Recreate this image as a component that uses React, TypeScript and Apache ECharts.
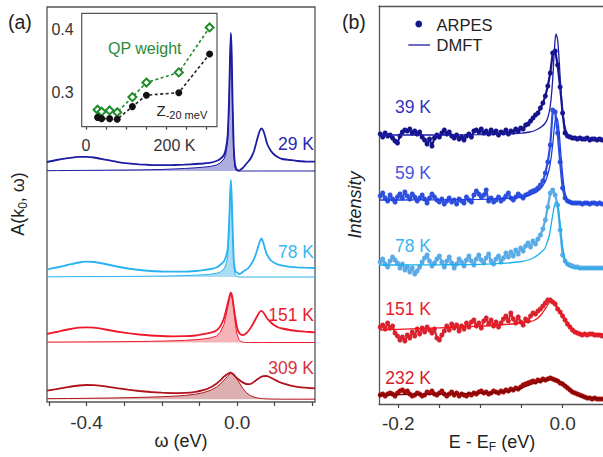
import React, { useEffect, useRef } from "react";
import * as echarts from "echarts";

const FONT = "'Liberation Sans', Arial, Helvetica, sans-serif";

// ---------------- Panel (a): A(k0, ω) ----------------
const OMEGA = [
  -0.505, -0.48, -0.45, -0.42, -0.4, -0.38, -0.35, -0.32, -0.29, -0.26,
  -0.23, -0.2, -0.17, -0.14, -0.11, -0.09, -0.07, -0.055, -0.045, -0.035,
  -0.03, -0.025, -0.0215, -0.019, -0.0167, -0.0145, -0.012, -0.009, -0.006, -0.003,
  0.0, 0.005, 0.01, 0.015, 0.02, 0.025, 0.03, 0.035, 0.04, 0.045,
  0.05, 0.055, 0.06, 0.065, 0.07, 0.075, 0.08, 0.09, 0.1, 0.11,
  0.12, 0.14, 0.16, 0.18, 0.207,
];
const TEMPS_A = ["29 K", "78 K", "151 K", "309 K"];
const OFFSET_A = [231, 125, 59.5, 2.8];

const FULL_29 = [
  9, 11, 12.8, 14.2, 14.2, 13.5, 11.3, 9.2, 7.6, 6.6,
  6, 5.8, 6, 6.3, 7, 7.5, 8.3, 10, 12, 16,
  22, 36, 70, 110, 138, 120, 70, 25, 8, 3,
  1, 0.5, 1.5, 3, 5, 7.5, 9.5, 12, 15.5, 20,
  27, 34, 40, 42.5, 40, 34, 27, 20, 16, 13.5,
  12, 11, 10, 9.5, 9.3,
];
const QP_29 = [
  0.3, 0.4, 0.5, 0.6, 0.6, 0.7, 0.8, 0.9, 1.0, 1.1,
  1.3, 1.5, 2, 2.5, 3.2, 3.8, 4.6, 6, 8, 12,
  17, 30, 62, 105, 136, 115, 62, 18, 4, 1,
  0.3, 0, 0, 0, 0, 0, 0, 0, 0, 0,
  0, 0, 0, 0, 0, 0, 0, 0, 0, 0,
  0, 0, 0, 0, 0,
];
const FULL_78 = [
  7.7, 9.5, 12, 14.5, 15.3, 15, 13, 10.5, 8.5, 7,
  6, 5.5, 5.3, 5.3, 6, 6.8, 8, 9.5, 12, 15.5,
  20, 28, 52, 78, 97, 82, 52, 18, 8, 5,
  4.5, 2.8, 3.5, 5, 6.5, 7.5, 9, 11.5, 14.5, 18,
  23, 29, 35, 38.5, 34, 27, 22, 16.5, 14, 12.3,
  11.3, 10.2, 9.6, 9.3, 9,
];
const QP_78 = [
  0.2, 0.25, 0.3, 0.35, 0.4, 0.4, 0.45, 0.5, 0.6, 0.7,
  0.8, 0.9, 1.1, 1.4, 1.8, 2.2, 2.8, 3.7, 5, 8,
  12, 20, 46, 75, 95, 78, 45, 14, 3.5, 1,
  0.3, 0.1, 0, 0, 0, 0, 0, 0, 0, 0,
  0, 0, 0, 0, 0, 0, 0, 0, 0, 0,
  0, 0, 0, 0, 0,
];
const FULL_151 = [
  8.5, 10.5, 13, 14.8, 15.2, 14.8, 13, 11, 9.3, 8,
  7, 6.5, 6.2, 6.3, 7, 8.3, 9.8, 12, 16, 24,
  31, 39, 44, 48, 49.8, 48.5, 44, 36, 28, 21,
  15, 10, 8, 7.5, 8, 9.5, 11.5, 14, 17, 20.5,
  24, 27.5, 30.5, 31.7, 30, 27, 24, 20, 17, 15,
  14, 12.5, 11.5, 10.8, 10.2,
];
const QP_151 = [
  0.4, 0.45, 0.5, 0.55, 0.6, 0.65, 0.7, 0.8, 0.9, 1.0,
  1.2, 1.4, 1.7, 2.1, 2.8, 3.5, 4.7, 6.5, 10, 18,
  26, 35, 41, 46, 48.5, 47, 42, 33, 23, 14,
  8, 3, 1, 0.4, 0.1, 0, 0, 0, 0, 0,
  0, 0, 0, 0, 0, 0, 0, 0, 0, 0,
  0, 0, 0, 0, 0,
];
const FULL_309 = [
  8.5, 10, 12, 13.7, 14.2, 14, 12.8, 11, 9.5, 8.2,
  7.2, 6.5, 6.1, 6.3, 7.4, 9, 12, 15.5, 18.5, 22.5,
  24, 25.3, 26, 26.5, 26.5, 26.2, 25.5, 24.5, 23.3, 22,
  21, 19.5, 18, 16.8, 15.8, 15.2, 15, 15.2, 16, 17.3,
  18.8, 20.2, 21.5, 22.5, 23, 23.2, 23, 21.5, 19.5, 17.5,
  16, 13.8, 12.4, 11.5, 10.8,
];
const QP_309 = [
  0.5, 0.6, 0.7, 0.8, 0.9, 1.0, 1.1, 1.3, 1.5, 1.8,
  2.1, 2.5, 3, 3.7, 5, 6.5, 9, 12, 15, 19,
  21, 23, 24.5, 25.3, 25.8, 25.8, 25.3, 24.2, 23, 21.5,
  20, 17, 14, 11, 8.5, 6.5, 5, 3.8, 2.8, 2.1,
  1.6, 1.2, 0.9, 0.7, 0.5, 0.4, 0.3, 0.2, 0.1, 0.1,
  0, 0, 0, 0, 0,
];
const FULL_A = [FULL_29, FULL_78, FULL_151, FULL_309];
const QP_A = [QP_29, QP_78, QP_151, QP_309];
const LINE_A = ["#1c1ca2", "#2ab2f2", "#ee1a2c", "#b0121c"];
const FILL_A = ["#acacdf", "#aadcf6", "#f7b4b8", "#dcb0b0"];
const LABEL_A = ["#2a2ab4", "#3cb6f2", "#ea1c2e", "#d8303c"];
const LABEL_A_Y = [144, 252, 315, 368];

// inset
const INSET_T = [29, 39, 59, 78, 116, 151, 232, 309];
const QP_WEIGHT = [0.273, 0.27, 0.272, 0.269, 0.293, 0.316, 0.332, 0.403];
const Z_20MEV = [0.261, 0.259, 0.259, 0.258, 0.278, 0.296, 0.3, 0.361];

// ---------------- Panel (b): ARPES vs DMFT ----------------
const E_ARPES = [
  -0.222, -0.219, -0.216, -0.213, -0.21, -0.207, -0.204, -0.201, -0.198, -0.195,
  -0.192, -0.189, -0.186, -0.183, -0.18, -0.177, -0.174, -0.171, -0.168, -0.165,
  -0.162, -0.159, -0.156, -0.153, -0.15, -0.147, -0.144, -0.141, -0.138, -0.135,
  -0.132, -0.129, -0.126, -0.123, -0.12, -0.117, -0.114, -0.111, -0.108, -0.105,
  -0.102, -0.099, -0.096, -0.093, -0.09, -0.087, -0.084, -0.081, -0.078, -0.075,
  -0.072, -0.069, -0.066, -0.063, -0.06, -0.057, -0.054, -0.051, -0.048, -0.045,
  -0.042, -0.039, -0.036, -0.033, -0.03, -0.027, -0.024, -0.021, -0.018, -0.015,
  -0.012, -0.009, -0.006, -0.003, 0, 0.003, 0.006, 0.009, 0.012, 0.015,
  0.018, 0.021, 0.024, 0.027, 0.03, 0.033, 0.036, 0.039, 0.042, 0.045,
  0.048,
];
const TEMPS_B = ["39 K", "59 K", "78 K", "151 K", "232 K"];
const OFFSET_B = [269, 204, 139, 74, 9];
const ARPES_39 = [
  1, -2, 2, -1, 0, -3, -6, -8, -1, 3,
  5, 4, 6, 2, 4, 1, 3, -2, -5, -9,
  -4, -11, -3, 0, -2, 2, 5, 1, 3, -1,
  -3, 0, -4, -2, -5, -1, 1, -2, 4, 5,
  3, 6, 2, 4, 1, 5, 2, 4, 0, 3,
  2, 5, 1, 4, 3, 6, 4, 7, 6, 10,
  11, 14, 17, 20, 22, 27, 32, 39, 49, 62,
  82, 84, 70, 48, 22, 2, -1, -2, -3, -3,
  -4, -3, -4, -4, -3, -5, -4, -4, -5, -4,
  -5,
];
const ARPES_59 = [
  4, 7, 2, -1, 5, 1, -2, 3, 6, 2,
  8, 4, 1, 6, 3, -1, 2, 5, 1, -3,
  2, 6, 3, 0, -2, 1, -4, -1, 2, -2,
  0, -4, 1, -1, -3, 3, 0, -2, 5, 9,
  6, 3, 5, 10, -1, 2, -2, 0, 3, -1,
  1, 4, 7, 2, 0, 3, 6, 4, 2, 5,
  6, 8, 9, 10, 12, 15, 19, 27, 38, 55,
  90, 88, 67, 38, 12, 2, -1, -2, -3, -3,
  -3, -3, -4, -3, -3, -4, -3, -3, -4, -3,
  -4,
];
const ARPES_78 = [
  3, 6, 1, -2, 4, 8, 5, 2, -3, 1,
  -5, -2, -7, -3, -9, -6, -2, 3, 7, 10,
  4, -1, 2, 6, 9, 3, -2, 4, 8, 2,
  -3, 1, 6, 3, -1, 5, 9, 4, 0, 6,
  10, 5, 2, 7, 11, 4, 1, 6, 9, 3,
  7, 12, 8, 13, 9, 15, 11, 17, 14, 19,
  22, 18, 24, 21, 26, 30, 36, 45, 58, 72,
  75, 70, 60, 35, 10, 4, 1, 0, -1, -2,
  -2, -3, -3, -3, -3, -3, -3, -3, -3, -3,
  -3,
];
const ARPES_151 = [
  3, 5, 1, 7, 2, 4, -3, -6, -10, -7,
  -11, -5, -8, -2, -6, 1, -4, 2, -2, 3,
  0, -3, 1, -8, -10, -5, -1, 4, 0, 6,
  2, 5, -1, 4, 1, 7, 3, 8, 10, 4,
  7, 2, 9, 12, 6, 10, 4, 8, 3, 7,
  11, 14, 9, 17, 11, 7, 13, 8, 5, 11,
  9, 14, 17, 16, 19, 21, 24, 27, 30, 30,
  28, 26, 21, 18, 14, 10, 6, 3, 0, -2,
  -3, -4, -5, -4, -5, -4, -4, -5, -5, -5,
  -6,
];
const ARPES_232 = [
  0, 1, -1, 1, 2, 1, -1, 2, 4, 5,
  3, 4, 1, -1, 0, 2, 1, -1, 0, 3,
  2, 4, 1, 0, 2, 4, 1, -1, 1, 3,
  0, 2, -1, 1, 0, -1, 1, 0, 2, 1,
  3, 4, 2, 3, 1, 2, 4, 3, 2, 4,
  3, 5, 4, 6, 5, 7, 6, 8, 10, 11,
  12, 13, 14, 13, 15, 14, 16, 15, 16, 17,
  16, 15, 14, 12, 11, 9, 7, 5, 3, 2,
  1, 0, -1, -2, -3, -3, -4, -3, -4, -4,
  -4,
];
const ARPES_B = [ARPES_39, ARPES_59, ARPES_78, ARPES_151, ARPES_232];

const E_DMFT = [
  -0.2235, -0.2, -0.15, -0.1, -0.07, -0.05, -0.04, -0.035, -0.03, -0.026,
  -0.022, -0.019, -0.016, -0.014, -0.012, -0.01, -0.008, -0.006, -0.004, -0.002,
  0, 0.002, 0.004, 0.006, 0.008, 0.01, 0.015, 0.02, 0.03, 0.05,
];
const DMFT_39 = [
  0, 0, 0, 0.3, 0.8, 1.8, 3, 4, 6, 8,
  11, 15, 24, 36, 56, 85, 101, 95, 72, 45,
  25, 12, 5, 1, -1.5, -2.5, -3.3, -3.5, -3.5, -3.5,
];
const DMFT_59 = [
  0, 0, 0.2, 0.6, 1.5, 3, 5, 6.5, 9, 12,
  17, 23, 32, 42, 56, 72, 83, 80, 66, 45,
  26, 12, 4, 0, -2, -3, -3.3, -3.3, -3.3, -3.3,
];
const DMFT_78 = [
  0, 0, 0.2, 0.7, 1.8, 3.5, 5.5, 7.5, 10, 13,
  16, 22, 30, 40, 50, 59, 63, 60, 49, 33,
  19, 9, 3, 0, -1.5, -2.5, -3.2, -3.3, -3.3, -3.3,
];
const DMFT_151 = [
  0, 0.7, 2.2, 3.8, 5.5, 7, 8.5, 9.5, 12, 15.5,
  20, 24, 27.5, 28.3, 28, 26.5, 24.5, 22, 19.5, 17.5,
  15, 12.5, 10, 7.5, 5, 2.5, -1.5, -3.5, -4, -4,
];
const DMFT_232 = [
  0, 0.3, 0.8, 1.8, 3.5, 7, 10, 11.5, 13, 14,
  14.8, 15.3, 15.6, 15.7, 15.6, 15.3, 14.8, 14.2, 13.6, 13,
  12.3, 11, 9.7, 8.3, 6.7, 5, 2, 0, -2.5, -4,
];
const DMFT_B = [DMFT_39, DMFT_59, DMFT_78, DMFT_151, DMFT_232];
const DOT_B = ["#14148c", "#2d50dc", "#5aaae6", "#d8232f", "#a30a0a"];
const LINE_B = ["#1a1aa6", "#1f3fe6", "#1ab0f0", "#f0141e", "#7a0000"];
const LABEL_B = ["#3333c0", "#4455e0", "#3ab4f0", "#e8202c", "#d4202a"];
const LABEL_B_Y = [107, 173, 246, 309, 378];

const AX_COLOR = "#444";
const FRAME = { color: "#555", width: 1.3 };

function txt(x: number, y: number, text: string, opts: any = {}) {
  return {
    type: "text",
    x,
    y,
    z: 100,
    rotation: opts.rotation || 0,
    style: {
      text,
      fill: opts.fill || "#222",
      fontSize: opts.fontSize || 18,
      fontFamily: FONT,
      fontStyle: opts.fontStyle || "normal",
      align: opts.align || "left",
      textAlign: opts.align || "left",
      verticalAlign: "middle",
      textVerticalAlign: "middle",
      rich: opts.rich,
    },
  };
}

export default function App() {
  const ref = useRef<HTMLDivElement>(null);

  useEffect(() => {
    if (!ref.current) return;
    const chart = echarts.init(ref.current, undefined, { renderer: "svg" });

    const series: any[] = [];
    TEMPS_A.forEach((t, k) => {
      const off = OFFSET_A[k];
      series.push({
        type: "custom",
        name: "QP fill " + t,
        xAxisIndex: 0,
        yAxisIndex: 0,
        z: 1,
        silent: true,
        clip: true,
        data: [[OMEGA[0], off]],
        renderItem: (_p: any, api: any) => {
          const pts = OMEGA.map((x, i) => api.coord([x, off + QP_A[k][i]]));
          pts.push(api.coord([OMEGA[OMEGA.length - 1], off]));
          pts.push(api.coord([OMEGA[0], off]));
          return { type: "polygon", shape: { points: pts }, style: { fill: FILL_A[k] } };
        },
      });
      series.push({
        type: "line",
        name: "QP " + t,
        xAxisIndex: 0,
        yAxisIndex: 0,
        z: 2,
        silent: true,
        showSymbol: false,
        data: OMEGA.map((x, i) => [x, off + QP_A[k][i]]),
        lineStyle: { color: LINE_A[k], width: 1 },
      });
      series.push({
        type: "line",
        name: "A " + t,
        xAxisIndex: 0,
        yAxisIndex: 0,
        z: 3,
        silent: true,
        showSymbol: false,
        smooth: 0.15,
        data: OMEGA.map((x, i) => [x, off + FULL_A[k][i]]),
        lineStyle: { color: LINE_A[k], width: 1.8 },
      });
    });

    series.push({
      type: "line",
      name: "QP weight",
      xAxisIndex: 1,
      yAxisIndex: 1,
      z: 5,
      data: INSET_T.map((t, i) => [t, QP_WEIGHT[i]]),
      symbol: "diamond",
      symbolSize: 8,
      itemStyle: { color: "#ffffff", borderColor: "#1e8a28", borderWidth: 2 },
      lineStyle: { color: "#1e8a28", width: 1.6, type: [3, 2.5] },
    });
    series.push({
      type: "line",
      name: "Z",
      xAxisIndex: 1,
      yAxisIndex: 1,
      z: 5,
      data: INSET_T.map((t, i) => [t, Z_20MEV[i]]),
      symbol: "circle",
      symbolSize: 7,
      itemStyle: { color: "#111111" },
      lineStyle: { color: "#222222", width: 1.6, type: [3, 2.5] },
    });

    TEMPS_B.forEach((t, k) => {
      const off = OFFSET_B[k];
      series.push({
        type: "line",
        name: "ARPES " + t,
        xAxisIndex: 2,
        yAxisIndex: 2,
        z: 3,
        silent: true,
        symbol: "circle",
        symbolSize: 5,
        showSymbol: true,
        data: E_ARPES.map((e, i) => [e, off + ARPES_B[k][i]]),
        itemStyle: { color: DOT_B[k] },
        lineStyle: { color: DOT_B[k], width: 2.2 },
      });
      series.push({
        type: "line",
        name: "DMFT " + t,
        xAxisIndex: 2,
        yAxisIndex: 2,
        z: 4,
        silent: true,
        showSymbol: false,
        smooth: 0.3,
        data: E_DMFT.map((e, i) => [e, off + DMFT_B[k][i]]),
        lineStyle: { color: LINE_B[k], width: 1.3 },
      });
    });

    const graphics: any[] = [
      txt(8, 22, "(a)", { fontSize: 19.5 }),
      txt(342, 22, "(b)", { fontSize: 19.5 }),
      txt(18, 204, "{m|A(k}{s|0}{m|, ω)}", {
        rotation: Math.PI / 2,
        align: "center",
        rich: {
          m: { fontSize: 18, lineHeight: 22, fontFamily: FONT, fill: "#222" },
          s: { fontSize: 12, lineHeight: 12, verticalAlign: "bottom", fontFamily: FONT, fill: "#222" },
        },
      }),
      txt(181, 441, "ω (eV)", { align: "center", fontSize: 18 }),
      txt(492, 442, "{m|E - E}{s|F}{m| (eV)}", {
        align: "center",
        rich: {
          m: { fontSize: 18, lineHeight: 22, fontFamily: FONT, fill: "#222" },
          s: { fontSize: 12, lineHeight: 12, verticalAlign: "bottom", fontFamily: FONT, fill: "#222" },
        },
      }),
      txt(355, 205, "Intensity", { align: "center", rotation: Math.PI / 2, fontStyle: "italic", fontSize: 18 }),
      txt(108, 48, "QP weight", { fill: "#2a8a3a", fontSize: 16 }),
      txt(156.5, 110, "{m|Z}{s|-20 meV}", {
        rich: {
          m: { fontSize: 15, lineHeight: 20, fontFamily: FONT, fill: "#222" },
          s: { fontSize: 11, lineHeight: 11, verticalAlign: "bottom", fontFamily: FONT, fill: "#222" },
        },
      }),
      {
        type: "circle",
        z: 100,
        shape: { cx: 418.7, cy: 24, r: 3.4 },
        style: { fill: DOT_B[0] },
      },
      {
        type: "line",
        z: 100,
        shape: { x1: 408.3, y1: 45, x2: 430, y2: 45 },
        style: { stroke: LINE_B[0], lineWidth: 1.3 },
      },
      txt(436.5, 25, "ARPES", { fontSize: 16.5 }),
      txt(436.5, 45, "DMFT", { fontSize: 16.5 }),
    ];
    TEMPS_A.forEach((t, k) => graphics.push(txt(314, LABEL_A_Y[k], t, { align: "right", fill: LABEL_A[k], fontSize: 17.5 })));
    TEMPS_B.forEach((t, k) => graphics.push(txt(431, LABEL_B_Y[k], t, { align: "right", fill: LABEL_B[k], fontSize: 17.5 })));

    const tickStyle = { show: true, inside: false, length: 4, lineStyle: { color: AX_COLOR, width: 1.2 } };

    chart.setOption({
      animation: false,
      backgroundColor: "#ffffff",
      grid: [
        { left: 47, top: 7, width: 268, height: 395, show: true, borderColor: "#555", borderWidth: 1.3, backgroundColor: "transparent" },
        { left: 81.7, top: 13.3, width: 135.3, height: 113.4, show: true, borderColor: "#555", borderWidth: 1.2, backgroundColor: "#ffffff", z: 4 },
        { left: 379, top: 6, width: 224, height: 398, show: false },
      ],
      xAxis: [
        {
          gridIndex: 0,
          type: "value",
          min: -0.505,
          max: 0.207,
          splitLine: { show: false },
          axisLine: { show: false },
          axisTick: { ...tickStyle, customValues: [-0.5, -0.4, -0.3, -0.2, -0.1, 0, 0.1, 0.2] },
          axisLabel: {
            customValues: [-0.4, 0],
            formatter: (v: number) => v.toFixed(1),
            fontSize: 19,
            fontFamily: FONT,
            color: "#333",
            margin: 11,
          },
        },
        {
          gridIndex: 1,
          type: "value",
          min: -10.75,
          max: 327.5,
          splitLine: { show: false },
          axisLine: { show: false },
          axisTick: { ...tickStyle, length: 3, customValues: [0, 50, 100, 150, 200, 250, 300] },
          axisLabel: {
            customValues: [0, 200],
            formatter: (v: number) => (v === 200 ? "{k|200 K}" : "{n|0}"),
            rich: {
              k: { fontSize: 16, fontFamily: FONT, color: "#333", padding: [0, 0, 0, 17] },
              n: { fontSize: 16, fontFamily: FONT, color: "#333" },
            },
            margin: 11,
          },
        },
        {
          gridIndex: 2,
          type: "value",
          min: -0.2235,
          max: 0.0492,
          position: "bottom",
          splitLine: { show: false },
          axisLine: { show: true, onZero: false, lineStyle: FRAME },
          axisTick: { ...tickStyle, customValues: [-0.2, -0.15, -0.1, -0.05, 0] },
          axisLabel: {
            customValues: [-0.2, 0],
            formatter: (v: number) => v.toFixed(1),
            fontSize: 19,
            fontFamily: FONT,
            color: "#333",
            margin: 10,
          },
        },
        {
          gridIndex: 2,
          type: "value",
          min: -0.2235,
          max: 0.0492,
          position: "top",
          splitLine: { show: false },
          axisLine: { show: true, onZero: false, lineStyle: FRAME },
          axisTick: { show: false },
          axisLabel: { show: false },
        },
      ],
      yAxis: [
        { gridIndex: 0, type: "value", min: 0, max: 395, show: false },
        {
          gridIndex: 1,
          type: "value",
          min: 0.2463,
          max: 0.4253,
          splitLine: { show: false },
          axisLine: { show: false },
          axisTick: { ...tickStyle, length: 3, customValues: [0.25, 0.275, 0.3, 0.325, 0.35, 0.375, 0.4] },
          axisLabel: {
            customValues: [0.3, 0.4],
            formatter: (v: number) => v.toFixed(1),
            fontSize: 16,
            fontFamily: FONT,
            color: "#333",
            margin: 8,
          },
        },
        {
          gridIndex: 2,
          type: "value",
          min: 0,
          max: 398,
          position: "left",
          splitLine: { show: false },
          axisLine: { show: true, onZero: false, lineStyle: FRAME },
          axisTick: { show: false },
          axisLabel: { show: false },
        },
      ],
      series,
      graphic: graphics,
    });

    return () => chart.dispose();
  }, []);

  return <div ref={ref} style={{ position: "fixed", left: 0, top: 0, width: 603, height: 457 }} />;
}
